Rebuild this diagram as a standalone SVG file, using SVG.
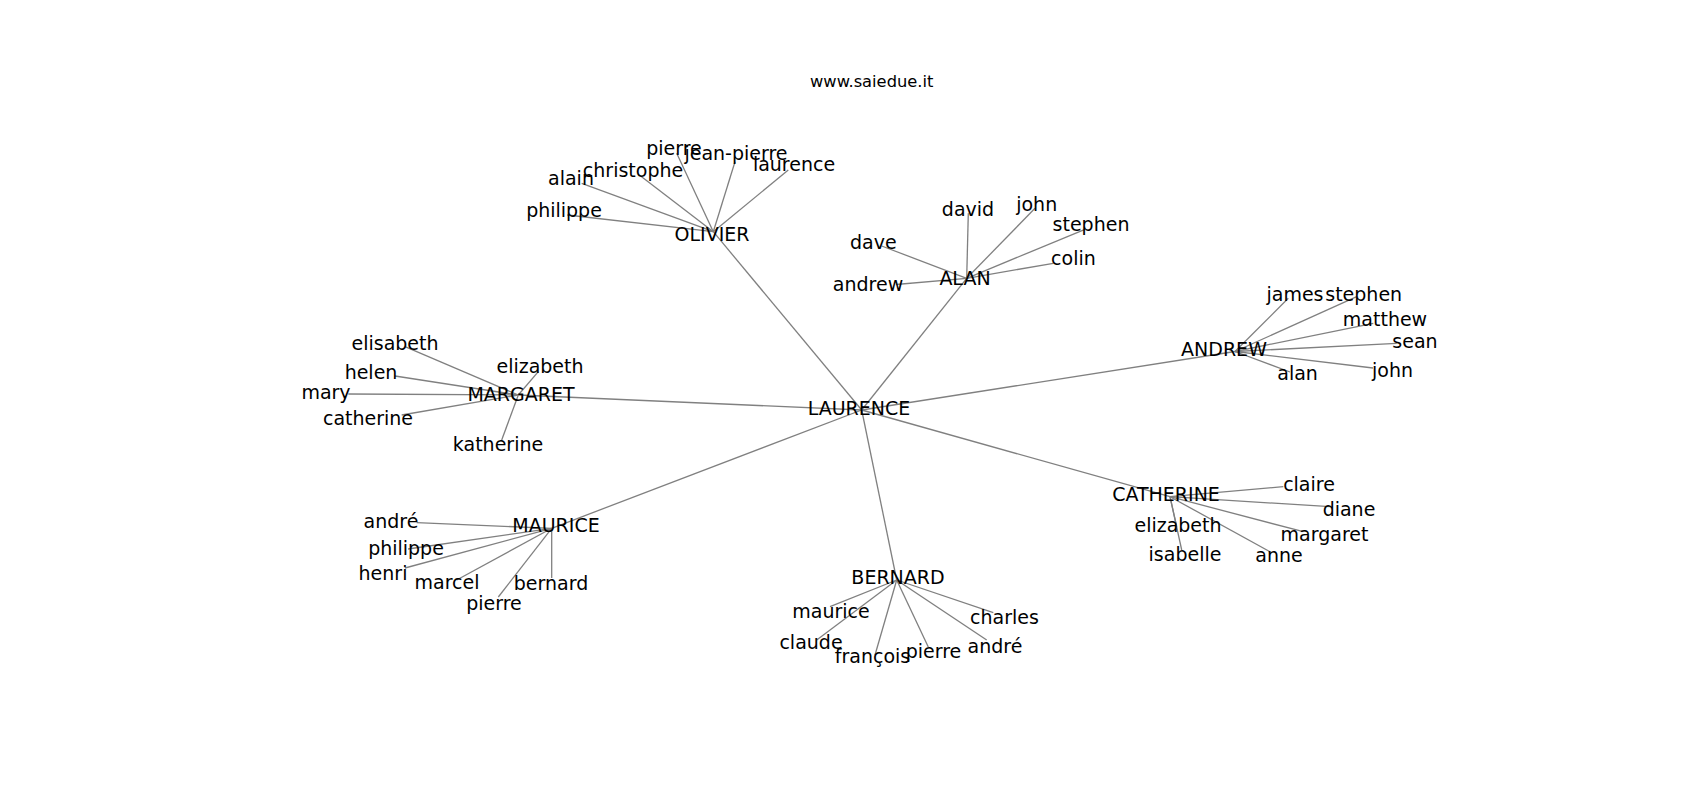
<svg xmlns="http://www.w3.org/2000/svg" width="1700" height="800" viewBox="0 0 1700 800">
<style>
.e{stroke:#808080;stroke-width:1.3;fill:none}
text{font-family:"DejaVu Sans","Liberation Sans",sans-serif;fill:#000;text-anchor:middle}
.l{font-size:19px}
.t{font-size:16.3px}
</style>
<rect width="1700" height="800" fill="#fff"/>
<text class="t" x="871.7" y="87">www.saiedue.it</text>
<g id="connectors">
<line class="e" x1="861.7" y1="410" x2="713.3" y2="231.7"/>
<line class="e" x1="861.7" y1="410" x2="966.7" y2="278.3"/>
<line class="e" x1="861.7" y1="410" x2="1235" y2="351.5"/>
<line class="e" x1="861.7" y1="410" x2="518.3" y2="395"/>
<line class="e" x1="861.7" y1="410" x2="551.7" y2="528.3"/>
<line class="e" x1="861.7" y1="410" x2="896.7" y2="580"/>
<line class="e" x1="861.7" y1="410" x2="1170" y2="496.7"/>
<line class="e" x1="713.3" y1="231.7" x2="676.7" y2="153.3"/>
<line class="e" x1="713.3" y1="231.7" x2="735" y2="161.7"/>
<line class="e" x1="713.3" y1="231.7" x2="788.3" y2="170"/>
<line class="e" x1="713.3" y1="231.7" x2="639.3" y2="175"/>
<line class="e" x1="713.3" y1="231.7" x2="581.7" y2="183.3"/>
<line class="e" x1="713.3" y1="231.7" x2="567.3" y2="215"/>
<line class="e" x1="966.7" y1="278.3" x2="968.3" y2="213.3"/>
<line class="e" x1="966.7" y1="278.3" x2="1035" y2="208.3"/>
<line class="e" x1="966.7" y1="278.3" x2="1085" y2="229.3"/>
<line class="e" x1="966.7" y1="278.3" x2="1053.3" y2="263.3"/>
<line class="e" x1="966.7" y1="278.3" x2="881.7" y2="246"/>
<line class="e" x1="966.7" y1="278.3" x2="896" y2="284.5"/>
<line class="e" x1="1235" y1="351.5" x2="1288.3" y2="298.3"/>
<line class="e" x1="1235" y1="351.5" x2="1356.7" y2="296.7"/>
<line class="e" x1="1235" y1="351.5" x2="1373.3" y2="323.3"/>
<line class="e" x1="1235" y1="351.5" x2="1396.7" y2="343.3"/>
<line class="e" x1="1235" y1="351.5" x2="1373" y2="368"/>
<line class="e" x1="1235" y1="351.5" x2="1290" y2="372"/>
<line class="e" x1="518.3" y1="395" x2="405" y2="346.7"/>
<line class="e" x1="518.3" y1="395" x2="395" y2="376"/>
<line class="e" x1="518.3" y1="395" x2="348.3" y2="394"/>
<line class="e" x1="518.3" y1="395" x2="401.7" y2="415"/>
<line class="e" x1="518.3" y1="395" x2="538.3" y2="371.7"/>
<line class="e" x1="518.3" y1="395" x2="501.7" y2="440"/>
<line class="e" x1="551.7" y1="528.3" x2="416.7" y2="522.7"/>
<line class="e" x1="551.7" y1="528.3" x2="408" y2="549"/>
<line class="e" x1="551.7" y1="528.3" x2="405" y2="568"/>
<line class="e" x1="551.7" y1="528.3" x2="456.7" y2="580"/>
<line class="e" x1="551.7" y1="528.3" x2="498.3" y2="597"/>
<line class="e" x1="551.7" y1="528.3" x2="551.7" y2="578"/>
<line class="e" x1="896.7" y1="580" x2="830" y2="606.7"/>
<line class="e" x1="896.7" y1="580" x2="816.7" y2="640"/>
<line class="e" x1="896.7" y1="580" x2="875" y2="655"/>
<line class="e" x1="896.7" y1="580" x2="928.3" y2="647"/>
<line class="e" x1="896.7" y1="580" x2="986.7" y2="640"/>
<line class="e" x1="896.7" y1="580" x2="993.3" y2="612.7"/>
<line class="e" x1="1170" y1="496.7" x2="1283.3" y2="486.7"/>
<line class="e" x1="1170" y1="496.7" x2="1330" y2="506.7"/>
<line class="e" x1="1170" y1="496.7" x2="1303.3" y2="531.7"/>
<line class="e" x1="1170" y1="496.7" x2="1270" y2="551.7"/>
<line class="e" x1="1170" y1="496.7" x2="1181.7" y2="550"/>
<line class="e" x1="1170" y1="496.7" x2="1176.7" y2="526.7"/>
</g>
<g id="n-laurence"><text class="l" x="859" y="414.5">LAURENCE</text></g>
<g id="n-olivier"><text class="l" x="712" y="241">OLIVIER</text></g>
<g id="n-olivier-pierre"><text class="l" x="674" y="155">pierre</text></g>
<g id="n-olivier-jean-pierre"><text class="l" x="736" y="160">jean-pierre</text></g>
<g id="n-olivier-laurence"><text class="l" x="794" y="170.5">laurence</text></g>
<g id="n-olivier-christophe"><text class="l" x="633" y="177">christophe</text></g>
<g id="n-olivier-alain"><text class="l" x="571" y="184.5">alain</text></g>
<g id="n-olivier-philippe"><text class="l" x="564" y="217">philippe</text></g>
<g id="n-alan"><text class="l" x="965" y="285">ALAN</text></g>
<g id="n-alan-david"><text class="l" x="968" y="215.5">david</text></g>
<g id="n-alan-john"><text class="l" x="1036.7" y="211">john</text></g>
<g id="n-alan-stephen"><text class="l" x="1091" y="230.5">stephen</text></g>
<g id="n-alan-colin"><text class="l" x="1073.4" y="265">colin</text></g>
<g id="n-alan-dave"><text class="l" x="873.3" y="248.8">dave</text></g>
<g id="n-alan-andrew"><text class="l" x="868" y="290.5">andrew</text></g>
<g id="n-andrew"><text class="l" x="1224" y="355.5">ANDREW</text></g>
<g id="n-andrew-james"><text class="l" x="1295" y="300.5">james</text></g>
<g id="n-andrew-stephen"><text class="l" x="1363.7" y="300.5">stephen</text></g>
<g id="n-andrew-matthew"><text class="l" x="1385" y="325.5">matthew</text></g>
<g id="n-andrew-sean"><text class="l" x="1415" y="348">sean</text></g>
<g id="n-andrew-john"><text class="l" x="1392.5" y="376.5">john</text></g>
<g id="n-andrew-alan"><text class="l" x="1297.6" y="379.5">alan</text></g>
<g id="n-margaret"><text class="l" x="521" y="401">MARGARET</text></g>
<g id="n-margaret-elisabeth"><text class="l" x="395" y="349.5">elisabeth</text></g>
<g id="n-margaret-helen"><text class="l" x="371" y="378.5">helen</text></g>
<g id="n-margaret-mary"><text class="l" x="326" y="398.5">mary</text></g>
<g id="n-margaret-catherine"><text class="l" x="368" y="424.5">catherine</text></g>
<g id="n-margaret-elizabeth"><text class="l" x="540" y="373">elizabeth</text></g>
<g id="n-margaret-katherine"><text class="l" x="498" y="451">katherine</text></g>
<g id="n-maurice"><text class="l" x="556" y="532">MAURICE</text></g>
<g id="n-maurice-andre"><text class="l" x="391" y="528">andré</text></g>
<g id="n-maurice-philippe"><text class="l" x="406" y="555">philippe</text></g>
<g id="n-maurice-henri"><text class="l" x="383" y="580">henri</text></g>
<g id="n-maurice-marcel"><text class="l" x="447" y="588.5">marcel</text></g>
<g id="n-maurice-pierre"><text class="l" x="494" y="610">pierre</text></g>
<g id="n-maurice-bernard"><text class="l" x="551" y="589.5">bernard</text></g>
<g id="n-bernard"><text class="l" x="898" y="584">BERNARD</text></g>
<g id="n-bernard-maurice"><text class="l" x="831" y="617.5">maurice</text></g>
<g id="n-bernard-claude"><text class="l" x="811" y="648.5">claude</text></g>
<g id="n-bernard-francois"><text class="l" x="872.5" y="663">françois</text></g>
<g id="n-bernard-pierre"><text class="l" x="933.5" y="658.3">pierre</text></g>
<g id="n-bernard-andre"><text class="l" x="995" y="653.3">andré</text></g>
<g id="n-bernard-charles"><text class="l" x="1004.5" y="623.5">charles</text></g>
<g id="n-catherine"><text class="l" x="1166" y="500.5">CATHERINE</text></g>
<g id="n-catherine-claire"><text class="l" x="1309" y="490.5">claire</text></g>
<g id="n-catherine-diane"><text class="l" x="1349" y="515.5">diane</text></g>
<g id="n-catherine-margaret"><text class="l" x="1324.5" y="540.5">margaret</text></g>
<g id="n-catherine-anne"><text class="l" x="1279" y="562">anne</text></g>
<g id="n-catherine-isabelle"><text class="l" x="1185" y="560.5">isabelle</text></g>
<g id="n-catherine-elizabeth"><text class="l" x="1178" y="532">elizabeth</text></g>
</svg>
